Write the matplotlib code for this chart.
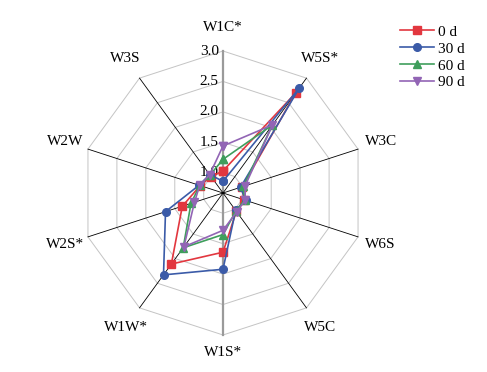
import numpy as np
import matplotlib
matplotlib.use("Agg")
import matplotlib.pyplot as plt
from matplotlib.transforms import offset_copy

plt.rcParams['font.family'] = ['Liberation Serif', 'DejaVu Serif']

# categories clockwise from the top
categories = ['W1C*', 'W5S*', 'W3C', 'W6S', 'W5C', 'W1S*', 'W1W*', 'W2S*', 'W2W', 'W3S']
series_names = ['0 d', '30 d', '60 d', '90 d']
d0 = [1.03, 2.70, 1.00, 1.03, 1.04, 1.64, 2.11, 1.37, 1.06, 1.00]
d30 = [0.86, 2.80, 0.97, 1.06, 1.02, 1.92, 2.33, 1.66, 1.08, 1.04]
d60 = [1.22, 2.05, 1.02, 1.04, 1.03, 1.35, 1.78, 1.22, 1.07, 1.03]
d90 = [1.44, 2.05, 1.05, 1.05, 1.05, 1.28, 1.76, 1.16, 1.07, 1.04]
ticks = [1.0, 1.5, 2.0, 2.5, 3.0]
tick_labels = ['1.0', '1.5', '2.0', '2.5', '3.0']
r_min = 0.667

colors = ['#E2373F', '#3B5BA8', '#3F9E5C', '#9265B5']
markers = ['s', 'o', '^', 'v']

fig = plt.figure(figsize=(4.87, 3.72), dpi=100)
ax = fig.add_axes([0.1663, 0.0995, 0.5832, 0.7634], projection='polar')
ax.set_theta_zero_location('N')
ax.set_theta_direction(-1)
ax.set_ylim(r_min, 3.0)
ax.axis('off')

n = len(categories)
angles = np.linspace(0, 2 * np.pi, n, endpoint=False)
closed = np.append(angles, angles[0])

# decagon grid rings
for v in ticks:
    ax.plot(closed, [v] * (n + 1), color='#c4c4c4', lw=0.7, zorder=1, clip_on=False)

# spokes
for i, a in enumerate(angles):
    if i in (0, n // 2):
        ax.plot([a, a], [r_min, 3.0], color='#9a9a9a', lw=1.6, zorder=1.5, clip_on=False)
    else:
        ax.plot([a, a], [r_min, 3.0], color='black', lw=0.6, zorder=1.6, clip_on=False)

# radial tick labels left of the vertical axis
trans = offset_copy(ax.transData, fig=fig, x=-3, y=0, units='points')
for v, lab in zip(ticks, tick_labels):
    ax.text(0, v, lab, transform=trans, ha='right', va='center', fontsize=11, zorder=2)

# category labels
for a, name in zip(angles, categories):
    r = 3.28 if name == 'W1S*' else 3.39
    ax.text(a, r, name, ha='center', va='center', fontsize=11, clip_on=False)

# series
for vals, name, c, m in zip([d0, d30, d60, d90], series_names, colors, markers):
    ax.plot(closed, vals + vals[:1], color=c, lw=1.2, marker=m, markersize=5.5,
            label=name, zorder=3, clip_on=False)

fig.legend(loc='upper left', bbox_to_anchor=(400 / 487, 1 - 25 / 372), frameon=False,
           fontsize=11, handlelength=2.2, handletextpad=0.3, labelspacing=0.21,
           borderpad=0, borderaxespad=0)

fig.savefig('out.png', dpi=100)
